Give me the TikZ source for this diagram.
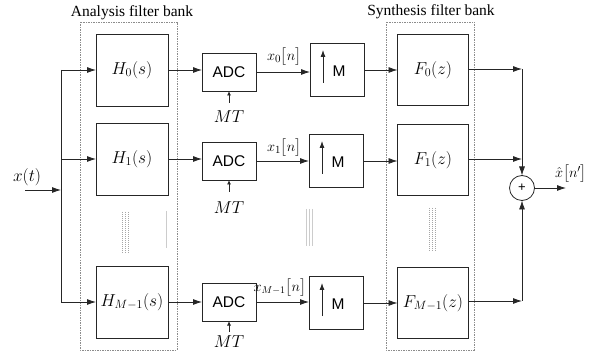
\documentclass[tikz,border=0pt]{standalone}
\usepackage{amsmath}
\usepackage{fontspec}
\setmainfont{Liberation Serif}
\setsansfont{Liberation Sans}
\usetikzlibrary{arrows.meta,calc}
\definecolor{ln}{gray}{0.15}
\definecolor{dsh}{gray}{0.55}
\begin{document}
\begin{tikzpicture}[x=1pt,y=-1pt,line width=0.8pt,
  every node/.style={inner sep=0pt,outer sep=0pt,font=\fontsize{16.5}{18}\selectfont},
  blk/.style={draw=ln,fill=white},
  hbox/.style={blk,minimum width=72pt,minimum height=72pt},
  adcbox/.style={blk,minimum width=54pt,minimum height=38pt,font=\sffamily\fontsize{15.5}{17}\selectfont},
  upbox/.style={blk,minimum width=54pt,minimum height=53pt},
  fbox/.style={blk,minimum width=71pt,minimum height=71pt},
  arr/.style={draw=ln,-{Latex[length=9pt,width=6pt]}},
  sarr/.style={draw=ln,-{Latex[length=4.5pt,width=4pt]}},
  bank/.style={draw=dsh,line width=0.5pt,dash pattern=on 1.5pt off 1pt},
  lbl/.style={font=\fontsize{15.5}{17}\selectfont},
  sig/.style={font=\fontsize{15.5}{17}\selectfont},
  dotcol/.style={draw=gray!70,line width=0.8pt,dash pattern=on 1pt off 1pt},
  faint/.style={draw=gray!40,line width=0.8pt}
]
\useasboundingbox (0,0) rectangle (599,352);

% filter bank frames
\draw[bank] (80,22) rectangle (177,350);
\draw[bank] (386,22) rectangle (474,350);
\node[lbl] (tA) at (132,13) {Analysis filter bank};
\node[lbl] (tS) at (431,12) {Synthesis filter bank};

% analysis filters
\node[hbox] (h0) at (132,70)  {$H_0(s)$};
\node[hbox] (h1) at (132,159) {$H_1(s)$};
\node[hbox] (h2) at (132,302) {$H_{M-1}(s)$};

% ADCs
\node[adcbox] (a0) at (229,72)  {ADC};
\node[adcbox] (a1) at (229,161) {ADC};
\node[adcbox] (a2) at (229,302) {ADC};

% upsamplers
\node[upbox] (m0) at (337,70)  {};
\node[upbox] (m1) at (336,161) {};
\node[upbox] (m2) at (336,303) {};

% synthesis filters
\node[fbox] (f0) at (433,70)  {$F_0(z)$};
\node[fbox] (f1) at (433,160) {$F_1(z)$};
\node[fbox] (f2) at (433,303) {$F_{M-1}(z)$};

% summing node
\node[draw=ln,circle,minimum size=25pt,fill=white,font=\sffamily\fontsize{13}{14}\selectfont] (sum) at (522,188) {+};

% input
\coordinate (xin) at (25,190);
\coordinate (sp) at (61,190);
\node (xt) at (27,177) {$x(t)$};
\draw[arr] (xin) -- (sp);
\draw[draw=ln] (61,70) -- (61,302);
\draw[arr] (61,70) -- (h0.west);
\draw[arr] (61,159) -- (h1.west);
\draw[arr] (61,302) -- (h2.west);

% H -> ADC
\draw[arr] (h0.east) -- (a0.west |- h0.east);
\draw[arr] (h1.east) -- (a1.west |- h1.east);
\draw[arr] (h2.east) -- (a2.west |- h2.east);

% ADC -> M
\draw[arr] (a0.east) -- (m0.west |- a0.east);
\draw[arr] (a1.east) -- (m1.west |- a1.east);
\draw[arr] (a2.east) -- (m2.west |- a2.east);
\node[sig,anchor=west] (x0) at (267,57)  {$x_0\big[n\big]$};
\node[sig,anchor=west] (x1) at (267,148) {$x_1\big[n\big]$};
\node[font=\fontsize{14}{16}\selectfont,anchor=east] (x2) at (306,288) {$x_{M-1}\big[n\big]$};

% MT clocks
\node (mt0) at (229,117) {$MT$};
\node (mt1) at (229,208) {$MT$};
\node (mt2) at (229,342) {$MT$};
\draw[sarr] ($(a0.south)+(0,12)$) -- (a0.south);
\draw[sarr] ($(a1.south)+(0,12)$) -- (a1.south);
\draw[sarr] ($(a2.south)+(0,11)$) -- (a2.south);

% inside upsamplers
\foreach \m in {m0,m1,m2}{
  \draw[draw=ln,-{Latex[length=7pt,width=5pt]}] ($(\m.center)+(-14,13)$) -- ($(\m.center)+(-14,-20)$);
  \node[font=\sffamily\fontsize{15.5}{17}\selectfont] at ($(\m.center)+(2,1)$) {M};
}

% M -> F
\draw[arr] (m0.east) -- (f0.west |- m0.east);
\draw[arr] (m1.east) -- (f1.west |- m1.east);
\draw[arr] (m2.east) -- (f2.west |- m2.east);

% F -> sum
\coordinate (j0) at (522,69);
\coordinate (j1) at (522,159);
\coordinate (j2) at (522,301);
\draw[arr] (f0.east |- j0) -- (j0);
\draw[arr] (f1.east |- j1) -- (j1);
\draw[arr] (f2.east |- j2) -- (j2);
\draw[arr] (j0) -- (sum.north);
\draw[arr] (j2) -- (sum.south);

% output
\coordinate (xo) at (566,188);
\draw[arr] (sum.east) -- (xo);
\node[sig,anchor=west] (xh) at (555,174) {$\hat{x}\big[n'\big]$};

% ellipsis marks
\foreach \xx in {122,125,128} \draw[dotcol] (\xx,212) -- (\xx,253);
\draw[faint] (166,211) -- (166,248);
\foreach \xx in {306,309,312} \draw[faint] (\xx,209) -- (\xx,246);
\foreach \xx in {429,432,435} \draw[dotcol] (\xx,208) -- (\xx,251);
\end{tikzpicture}
\end{document}
